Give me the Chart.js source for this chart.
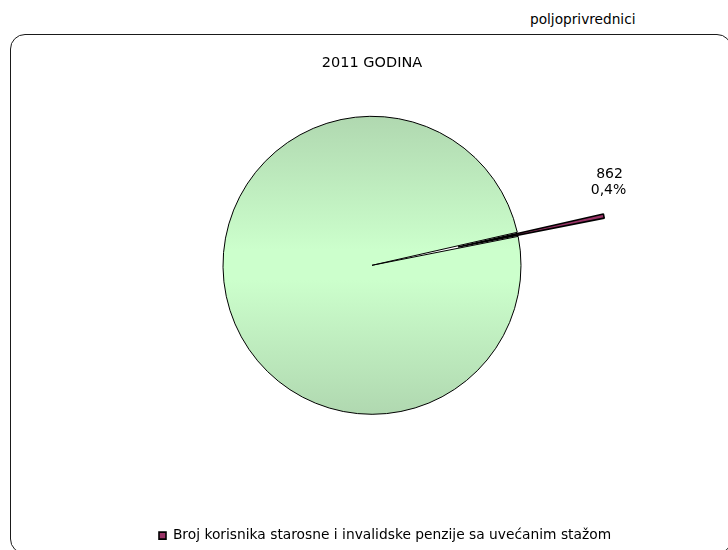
<!DOCTYPE html>
<html>
<head>
<meta charset="utf-8">
<script src="https://cdn.jsdelivr.net/npm/chart.js@4/dist/chart.umd.min.js"></script>
<style>
    body { margin: 0; background: #fff; font-family: "DejaVu Sans", sans-serif; }
    #wrap { position: relative; width: 728px; height: 550px; overflow: hidden; }
    #frame {
        position: absolute; left: 10px; top: 34px; width: 720px; height: 518px;
        border: 1.5px solid #1a1a1a; border-radius: 15px;
    }
    #note { position: absolute; left: 530px; top: 11px; font-size: 13.7px; color: #000; }
    #chartBox { position: absolute; left: 0; top: 0; width: 728px; height: 550px; }
</style>
</head>
<body>
<div id="wrap">
    <div id="frame"></div>
    <div id="note">poljoprivrednici</div>
    <div id="chartBox"><canvas id="pieChart"></canvas></div>
</div>
<script>
// data (the second value is not printed, estimated)
var categories = ['Broj korisnika starosne i invalidske penzije sa uvećanim stažom', 'Ostali korisnici'];
var values = [862, 192000];
var sliceColors = ['#993366', '#c8fac8'];

var pieRadius = 149;
var explodeDistance = 88;

// move the first slice out of the pie (like excel "explode")
var explodePlugin = {
    id: 'explode',
    afterDatasetsUpdate: function (chart) {
        var arc = chart.getDatasetMeta(0).data[0];
        var mid = (arc.startAngle + arc.endAngle) / 2;
        arc.x += Math.cos(mid) * explodeDistance;
        arc.y += Math.sin(mid) * explodeDistance;
    }
};

// value + percent label next to the small slice
var labelPlugin = {
    id: 'sliceLabel',
    afterDatasetsDraw: function (chart) {
        var arc = chart.getDatasetMeta(0).data[0];
        var total = values.reduce(function (a, b) { return a + b; }, 0);
        var pct = (values[0] / total * 100).toFixed(1).replace('.', ',') + '%';
        var mid = (arc.startAngle + arc.endAngle) / 2;
        var px = arc.x + Math.cos(mid) * (arc.outerRadius + 14);
        var py = arc.y + Math.sin(mid) * (arc.outerRadius + 14);
        var c = chart.ctx;
        c.save();
        c.font = '14px "DejaVu Sans"';
        c.fillStyle = '#000';
        c.textAlign = 'center';
        c.textBaseline = 'alphabetic';
        c.fillText(String(values[0]), px - 8, py - 35);
        c.fillText(pct, px - 9, py - 19);
        c.restore();
    }
};

function greenFill(ctx) {
    if (ctx.dataIndex === 0) return sliceColors[0];
    var area = ctx.chart.chartArea;
    if (!area) return sliceColors[1];
    var cy = (area.top + area.bottom) / 2;
    var g = ctx.chart.ctx.createLinearGradient(0, cy - pieRadius, 0, cy + pieRadius);
    g.addColorStop(0, '#b0d8b0');
    g.addColorStop(0.45, '#ccffcc');
    g.addColorStop(0.55, '#ccffcc');
    g.addColorStop(1, '#b0d8b0');
    return g;
}

var ctx = document.getElementById('pieChart').getContext('2d');
var pieChart = new Chart(ctx, {
    type: 'pie',
    data: {
        labels: categories,
        datasets: [{
            data: values,
            backgroundColor: greenFill,
            borderColor: '#000',
            borderWidth: [1.6, 1]
        }]
    },
    options: {
        responsive: true,
        maintainAspectRatio: false,
        animation: false,
        radius: pieRadius,
        rotation: 77.2,
        layout: { padding: { left: 89, right: 73, top: 0, bottom: -2.5 } },
        plugins: {
            title: {
                display: true,
                text: '2011 GODINA',
                color: '#000',
                font: { family: 'DejaVu Sans', size: 14.5, weight: 'normal' },
                padding: { top: 54.5, bottom: 0 }
            },
            legend: {
                position: 'bottom',
                align: 'start',
                labels: {
                    color: '#000',
                    boxWidth: 7,
                    boxHeight: 7,
                    padding: 70,
                    font: { family: 'DejaVu Sans', size: 13.8 },
                    filter: function (item) { return item.index === 0; }
                }
            },
            tooltip: { enabled: false }
        }
    },
    plugins: [explodePlugin, labelPlugin]
});
</script>
</body>
</html>
